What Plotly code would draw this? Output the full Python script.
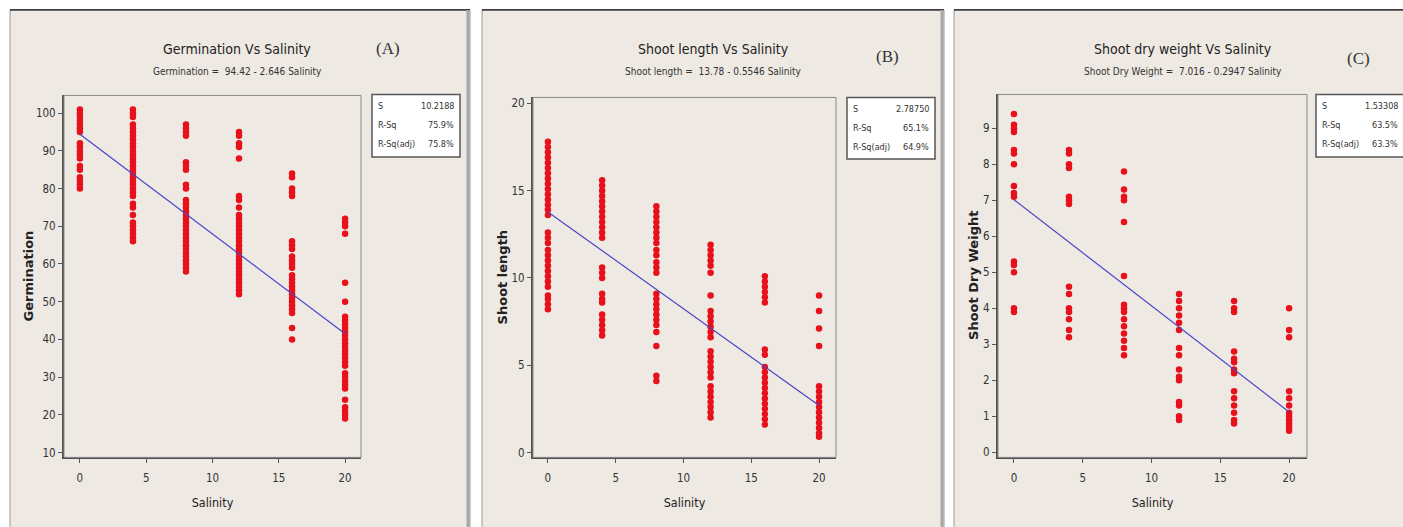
import plotly.graph_objects as go

W, H = 1403, 527

salinity_levels = [0, 4, 8, 12, 16, 20]

germination = [
    [101, 100, 99, 98, 97, 96, 95, 92, 91, 90, 89, 88, 86, 85, 83, 82, 81, 80],
    [101, 100, 99, 97, 96, 95, 94, 93, 92, 91, 90, 89, 88, 87, 86, 85, 84, 83, 82, 81, 80, 79, 78, 76, 75, 73, 71, 70, 69, 68, 67, 66],
    [97, 96, 95, 94, 87, 86, 85, 81, 80, 77, 76, 75, 74, 73, 72, 71, 70, 69, 68, 67, 66, 65, 64, 63, 62, 61, 60, 59, 58],
    [95, 94, 92, 91, 88, 78, 77, 75, 73, 72, 71, 70, 69, 68, 67, 66, 65, 64, 63, 62, 61, 60, 59, 58, 57, 56, 55, 54, 53, 52],
    [84, 83, 80, 79, 78, 66, 65, 64, 62, 61, 60, 59, 57, 56, 55, 54, 53, 52, 51, 50, 49, 48, 47, 43, 40],
    [72, 71, 70, 68, 55, 50, 46, 45, 44, 43, 42, 41, 40, 39, 38, 37, 36, 35, 34, 33, 31, 30, 29, 28, 27, 24, 22, 21, 20, 19],
]

shoot_length = [
    [17.8, 17.5, 17.2, 16.9, 16.6, 16.3, 16.0, 15.7, 15.4, 15.1, 14.8, 14.5, 14.2, 13.9, 13.6, 12.6, 12.3, 12.0, 11.6, 11.3, 11.0, 10.7, 10.4, 10.1, 9.8, 9.5, 9.0, 8.8, 8.5, 8.2],
    [15.6, 15.3, 15.0, 14.7, 14.4, 14.1, 13.8, 13.5, 13.2, 12.9, 12.6, 12.3, 10.6, 10.3, 10.0, 9.1, 8.8, 8.6, 7.9, 7.6, 7.3, 7.0, 6.7],
    [14.1, 13.8, 13.5, 13.2, 12.9, 12.6, 12.3, 12.0, 11.6, 11.3, 10.9, 10.6, 10.3, 9.1, 8.8, 8.5, 8.2, 7.9, 7.6, 7.3, 6.9, 6.1, 4.4, 4.1],
    [11.9, 11.6, 11.3, 11.0, 10.7, 10.3, 9.0, 8.1, 7.8, 7.5, 7.2, 6.9, 6.6, 5.8, 5.5, 5.2, 4.9, 4.6, 4.3, 3.8, 3.5, 3.2, 2.9, 2.6, 2.3, 2.0],
    [10.1, 9.8, 9.5, 9.2, 8.9, 8.6, 5.9, 5.6, 4.9, 4.6, 4.3, 4.0, 3.7, 3.4, 3.1, 2.8, 2.5, 2.2, 1.9, 1.6],
    [9.0, 8.1, 7.1, 6.1, 3.8, 3.5, 3.2, 2.9, 2.6, 2.3, 2.0, 1.7, 1.4, 1.1, 0.9],
]

shoot_dry_weight = [
    [9.4, 9.1, 9.0, 8.9, 8.4, 8.3, 8.0, 7.4, 7.2, 7.1, 5.3, 5.2, 5.0, 4.0, 3.9],
    [8.4, 8.3, 8.0, 7.9, 7.1, 7.0, 6.9, 4.6, 4.4, 4.0, 3.9, 3.7, 3.4, 3.2],
    [7.8, 7.3, 7.1, 7.0, 6.4, 4.9, 4.1, 4.0, 3.9, 3.7, 3.5, 3.3, 3.1, 2.9, 2.7],
    [4.4, 4.2, 4.0, 3.8, 3.6, 3.4, 2.9, 2.7, 2.3, 2.1, 2.0, 1.4, 1.3, 1.0, 0.9],
    [4.2, 4.0, 3.9, 2.8, 2.6, 2.5, 2.3, 2.2, 1.7, 1.5, 1.3, 1.1, 0.9, 0.8],
    [4.0, 3.4, 3.2, 1.7, 1.5, 1.3, 1.1, 1.0, 0.9, 0.8, 0.7, 0.6],
]

fit_x = [0, 20]
fit_germination = [94.42, 41.50]
fit_shoot_length = [13.78, 2.69]
fit_dry_weight = [7.016, 1.122]

titles = ["Germination Vs Salinity", "Shoot length Vs Salinity", "Shoot dry weight Vs Salinity"]
equations = ["Germination =  94.42 - 2.646 Salinity",
             "Shoot length =  13.78 - 0.5546 Salinity",
             "Shoot Dry Weight =  7.016 - 0.2947 Salinity"]
panel_tags = ["(A)", "(B)", "(C)"]
y_titles = ["Germination", "Shoot length", "Shoot Dry Weight"]
stat_labels = ["S", "R-Sq", "R-Sq(adj)"]
stat_values = [["10.2188", "75.9%", "75.8%"],
               ["2.78750", "65.1%", "64.9%"],
               ["1.53308", "63.5%", "63.3%"]]
y_ticks = [[10, 20, 30, 40, 50, 60, 70, 80, 90, 100],
           [0, 5, 10, 15, 20],
           [0, 1, 2, 3, 4, 5, 6, 7, 8, 9]]
x_ticks = [0, 5, 10, 15, 20]


def px(x):
    return x / W


def py(y):
    return 1 - y / H


FONT = "Liberation Sans Narrow, DejaVu Sans Condensed, Roboto Condensed, Arial Narrow, Liberation Sans, sans-serif"
RED = "#E8101A"
BLUE = "#4848C8"

# layout geometry (pixels)
plot_x = [(64, 361), (533, 836), (998, 1307)]
plot_y = [(95, 459), (97, 459), (94, 459)]
x_ranges = [[-1.2, 21.2], [-1.1, 21.25], [-1.16, 21.3]]
y_ranges = [[8.7, 104.7], [-0.28, 20.34], [-0.14, 9.94]]
panel_frames = [(10, 470), (482, 944), (954, 1420)]
title_cx = [237, 713, 1183]
tag_pos = [(388, 48), (887, 56), (1358, 58)]
ytitle_x = [28, 502, 974]
stat_boxes = [(372, 460, 94, 157), (847, 935, 97, 159), (1316, 1410, 94, 157)]

datasets = [germination, shoot_length, shoot_dry_weight]
fits = [fit_germination, fit_shoot_length, fit_dry_weight]

fig = go.Figure()
shapes = []
annotations = []

for i in range(3):
    ax = "" if i == 0 else str(i + 1)
    xs, ys = [], []
    for lvl, vals in zip(salinity_levels, datasets[i]):
        xs += [lvl] * len(vals)
        ys += vals
    fig.add_trace(go.Scatter(x=xs, y=ys, mode="markers", xaxis="x" + ax, yaxis="y" + ax,
                             marker=dict(color=RED, size=6.5, line=dict(width=0)),
                             showlegend=False, hoverinfo="x+y"))
    fig.add_trace(go.Scatter(x=fit_x, y=fits[i], mode="lines", xaxis="x" + ax, yaxis="y" + ax,
                             line=dict(color=BLUE, width=1.2), showlegend=False))

    x0, x1 = plot_x[i]
    y0, y1 = plot_y[i]
    axis_common = dict(showgrid=False, zeroline=False, ticks="outside", ticklen=4,
                       tickcolor="#555", tickwidth=1, showline=True, linecolor="#505050",
                       linewidth=2, tickfont=dict(family=FONT, size=11.5, color="#333"))
    fig.update_layout(**{
        "xaxis" + ax: dict(domain=[px(x0), px(x1)], range=x_ranges[i], tickvals=x_ticks,
                           anchor="y" + ax, ticklabelstandoff=5,
                           title=dict(text="Salinity", standoff=14,
                                      font=dict(family=FONT, size=12.5, color="#222")),
                           **axis_common),
        "yaxis" + ax: dict(domain=[py(y1), py(y0)], range=y_ranges[i], tickvals=y_ticks[i],
                           anchor="x" + ax, **axis_common),
    })

    # panel frame
    fx0, fx1 = panel_frames[i]
    shapes.append(dict(type="rect", xref="paper", yref="paper", x0=px(fx0), x1=px(fx1),
                       y0=py(H + 5), y1=py(9), fillcolor="#EEE9E3",
                       line=dict(color="#9A9A9A", width=1), layer="below"))
    shapes.append(dict(type="line", xref="paper", yref="paper", x0=px(fx0), x1=px(fx1),
                       y0=py(9), y1=py(9), line=dict(color="#111", width=1.2), layer="below"))
    shapes.append(dict(type="line", xref="paper", yref="paper", x0=px(fx1 - 2), x1=px(fx1 - 2),
                       y0=py(9), y1=py(H + 5), line=dict(color="#A8A8A8", width=3), layer="below"))
    # plot area border (top/right)
    shapes.append(dict(type="rect", xref="paper", yref="paper", x0=px(x0), x1=px(x1),
                       y0=py(y1), y1=py(y0), line=dict(color="#8A8A8A", width=1)))

    # titles
    annotations.append(dict(text=titles[i], x=px(title_cx[i]), y=py(48), xref="paper", yref="paper",
                            showarrow=False, xanchor="center", yanchor="middle",
                            font=dict(family=FONT, size=14, color="#222")))
    annotations.append(dict(text=equations[i], x=px(title_cx[i]), y=py(71), xref="paper", yref="paper",
                            showarrow=False, xanchor="center", yanchor="middle",
                            font=dict(family=FONT, size=10, color="#333")))
    annotations.append(dict(text=panel_tags[i], x=px(tag_pos[i][0]), y=py(tag_pos[i][1]),
                            xref="paper", yref="paper", showarrow=False, xanchor="center",
                            yanchor="middle",
                            font=dict(family="Liberation Serif, DejaVu Serif, serif", size=17,
                                      color="#333")))
    annotations.append(dict(text="<b>" + y_titles[i] + "</b>", x=px(ytitle_x[i]),
                            y=py((y0 + y1) / 2), xref="paper", yref="paper", showarrow=False,
                            textangle=-90, xanchor="center", yanchor="middle",
                            font=dict(family="DejaVu Sans, Verdana, sans-serif", size=13,
                                      color="#222")))

    # stats box
    bx0, bx1, by0, by1 = stat_boxes[i]
    shapes.append(dict(type="rect", xref="paper", yref="paper", x0=px(bx0), x1=px(bx1),
                       y0=py(by1), y1=py(by0), fillcolor="white",
                       line=dict(color="#555", width=1.5)))
    for k, (lab, val) in enumerate(zip(stat_labels, stat_values[i])):
        yy = by0 + 12 + k * 19
        annotations.append(dict(text=lab, x=px(bx0 + 4), y=py(yy), xref="paper", yref="paper",
                                showarrow=False, xanchor="left", yanchor="middle",
                                font=dict(family=FONT, size=9, color="#333")))
        vx = bx1 - 4 if i < 2 else bx0 + 84
        annotations.append(dict(text=val, x=px(vx), y=py(yy), xref="paper", yref="paper",
                                showarrow=False, xanchor="right", yanchor="middle",
                                font=dict(family=FONT, size=9, color="#333")))

fig.update_layout(width=W, height=H, margin=dict(l=0, r=0, t=0, b=0),
                  paper_bgcolor="white", plot_bgcolor="white",
                  shapes=shapes, annotations=annotations, showlegend=False)

fig.write_html("out.html", config={"displayModeBar": False})
